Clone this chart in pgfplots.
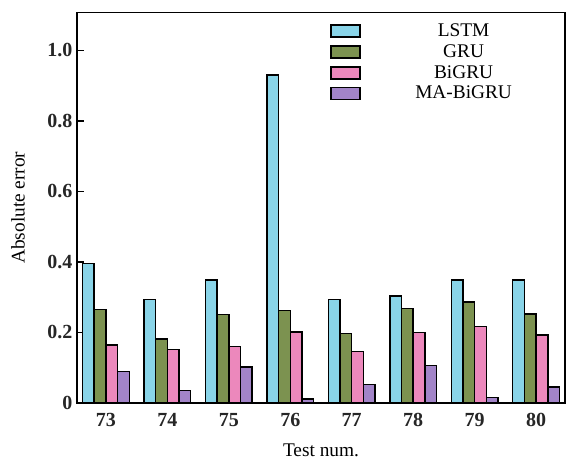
\documentclass[border=0pt]{standalone}
\usepackage{pgfplots}
\pgfplotsset{compat=1.18}
\usepackage{fontspec}
\setmainfont{Liberation Serif}
\newcommand{\fs}{\fontsize{14.5}{16.5}\selectfont}
\definecolor{clstm}{RGB}{137,212,232}
\definecolor{cgru}{RGB}{124,146,80}
\definecolor{cbigru}{RGB}{236,136,188}
\definecolor{cma}{RGB}{162,132,200}
\begin{document}
\begin{tikzpicture}
\begin{axis}[
  name=ax,
  scale only axis,
  width=366pt, height=293pt,
  xmin=72.53, xmax=80.47,
  ymin=0, ymax=1.108,
  ybar=0pt, bar width=0.19,
  xtick={73,...,80},
  ytick={0,0.2,0.4,0.6,0.8,1.0},
  yticklabels={0,0.2,0.4,0.6,0.8,1.0},
  ytick pos=left, tick align=inside,
  xtick style={draw=none},
  major tick length=5pt,
  axis line style={line width=1.1pt},
  every tick/.style={line width=1.1pt, black},
  tick label style={font=\fontsize{15}{17}\selectfont\bfseries, text=black!85},
  xticklabel style={yshift=-4pt},
  /pgf/number format/assume math mode=true,
  xlabel={Test num.}, ylabel={Absolute error},
  label style={font=\fs},
  xlabel style={yshift=-6pt},
  ylabel style={yshift=10pt},
  legend style={at={(0.51,0.985)}, anchor=north west, draw=none, fill=none,
    font=\fs, row sep=0.5pt, cells={anchor=center}},
  legend image code/.code={\filldraw[#1, draw=black, line width=1.1pt] (0pt,-4.5pt) rectangle (22pt,4.5pt);},
]
\addplot[draw=black, line width=1.1pt, fill=clstm] coordinates {(73,0.396) (74,0.294) (75,0.349) (76,0.930) (77,0.294) (78,0.304) (79,0.349) (80,0.349)};
\addplot[draw=black, line width=1.1pt, fill=cgru] coordinates {(73,0.265) (74,0.181) (75,0.251) (76,0.262) (77,0.197) (78,0.268) (79,0.286) (80,0.252)};
\addplot[draw=black, line width=1.1pt, fill=cbigru] coordinates {(73,0.164) (74,0.151) (75,0.160) (76,0.201) (77,0.146) (78,0.200) (79,0.217) (80,0.193)};
\addplot[draw=black, line width=1.1pt, fill=cma] coordinates {(73,0.090) (74,0.035) (75,0.102) (76,0.012) (77,0.052) (78,0.106) (79,0.016) (80,0.046)};
\legend{\makebox[150pt][c]{LSTM},\makebox[150pt][c]{GRU},\makebox[150pt][c]{BiGRU},\makebox[150pt][c]{MA-BiGRU}}
\end{axis}
\pgfresetboundingbox
\path[use as bounding box] (ax.south west) ++(-57.75pt,-42.75pt) rectangle ++(425.25pt,345pt);
\end{tikzpicture}
\end{document}
